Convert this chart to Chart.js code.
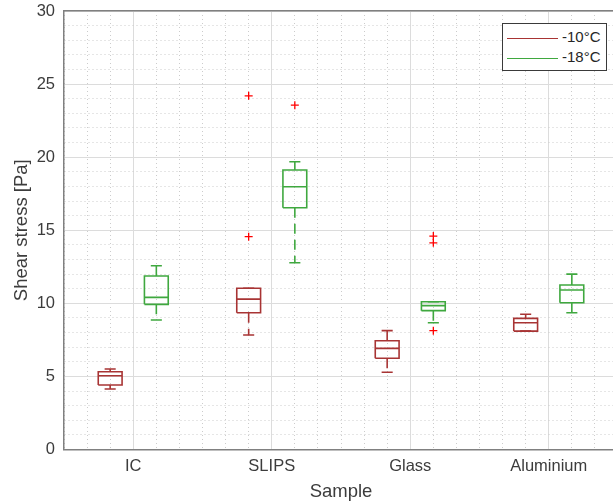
<!DOCTYPE html>
<html>
<head>
<meta charset="utf-8">
<script src="https://cdn.jsdelivr.net/npm/chart.js@4/dist/chart.umd.min.js"></script>
<style>
  body { margin: 0; overflow: hidden; background: #fff; }
  #wrap { position: relative; width: 625px; height: 504px; }
  #legend {
    position: absolute; left: 502px; top: 23px; width: 103px; height: 46px;
    border: 1px solid #3a3a3a; background: #fff;
    font-family: "Liberation Sans", Arial, sans-serif; font-size: 15px; color: #262626;
  }
  .item { position: absolute; left: 4px; height: 18px; line-height: 18px; white-space: nowrap; }
  .item span.line { display: inline-block; width: 51px; height: 0; border-top: 1.5px solid; vertical-align: middle; margin-right: 4px; }
</style>
</head>
<body>
<div id="wrap">
  <canvas id="boxChart" width="625" height="504"></canvas>
  <div id="legend"></div>
</div>
<script>
// categories and series
const categories = ['IC', 'SLIPS', 'Glass', 'Aluminium'];
const seriesNames = ['-10°C', '-18°C'];
const seriesColors = ['#a83434', '#3fa83f'];

// -10°C box statistics (Pa)
const low10 = [4.14, 7.83, 5.28, 8.10];
const q1_10 = [4.41, 9.36, 6.24, 8.10];
const med10 = [5.05, 10.29, 6.92, 8.67];
const q3_10 = [5.32, 11.03, 7.44, 8.97];
const high10 = [5.51, 11.03, 8.13, 9.25];
const outliers10 = [[], [24.2, 14.56], [], []];

// -18°C box statistics (Pa)
const low18 = [8.86, 12.78, 8.67, 9.36];
const q1_18 = [9.93, 16.54, 9.50, 10.04];
const med18 = [10.41, 17.98, 9.84, 10.91];
const q3_18 = [11.87, 19.12, 10.11, 11.25];
const high18 = [12.57, 19.69, 10.11, 12.00];
const outliers18 = [[], [23.56], [14.6, 14.14, 8.13], []];

// tick positions (major + minor grid)
const xTicks = [];
for (let k = 0; k <= 24; k++) xTicks.push(0.5 + k / 6);
const yTicks = [];
for (let v = 0; v <= 30; v++) yTicks.push(v);

const groupOffset = [-1 / 6, 1 / 6];
const halfBox = 0.086;
const halfCap = 0.04;
const font = '"Liberation Sans", Arial, sans-serif';
const textColor = '#3c3c3c';

function isMajorX(v) { return Math.abs(v - Math.round(v)) < 1e-6; }

function boxDatasets(s, idx) {
  const color = seriesColors[idx];
  const box = [], whisk = [], caps = [], outs = [];
  categories.forEach((c, i) => {
    const x = i + 1 + groupOffset[idx];
    box.push({x: x - halfBox, y: s.q1[i]}, {x: x + halfBox, y: s.q1[i]},
             {x: x + halfBox, y: s.q3[i]}, {x: x - halfBox, y: s.q3[i]},
             {x: x - halfBox, y: s.q1[i]}, {x: x, y: null},
             {x: x - halfBox, y: s.med[i]}, {x: x + halfBox, y: s.med[i]}, {x: x, y: null});
    whisk.push({x: x, y: s.q3[i]}, {x: x, y: s.high[i]}, {x: x, y: null},
               {x: x, y: s.q1[i]}, {x: x, y: s.low[i]}, {x: x, y: null});
    caps.push({x: x - halfCap, y: s.high[i]}, {x: x + halfCap, y: s.high[i]}, {x: x, y: null},
              {x: x - halfCap, y: s.low[i]}, {x: x + halfCap, y: s.low[i]}, {x: x, y: null});
    s.out[i].forEach(v => outs.push({x: x, y: v}));
  });
  const line = {showLine: true, pointRadius: 0, borderColor: color, borderWidth: 1.6, spanGaps: false, fill: false};
  return [
    Object.assign({label: seriesNames[idx], data: box}, line),
    Object.assign({label: seriesNames[idx] + ' whiskers', data: whisk, borderDash: [10, 6]}, line),
    Object.assign({label: seriesNames[idx] + ' caps', data: caps}, line),
    {label: seriesNames[idx] + ' outliers', data: outs, showLine: false, pointStyle: 'cross',
     pointRadius: 4, borderColor: '#ff0000', borderWidth: 1.3}
  ];
}

const datasets = [
  ...boxDatasets({low: low10, q1: q1_10, med: med10, q3: q3_10, high: high10, out: outliers10}, 0),
  ...boxDatasets({low: low18, q1: q1_18, med: med18, q3: q3_18, high: high18, out: outliers18}, 1)
];

const ctx = document.getElementById('boxChart').getContext('2d');
const chart = new Chart(ctx, {
  type: 'scatter',
  data: { datasets: datasets },
  options: {
    responsive: false,
    animation: false,
    devicePixelRatio: 1,
    layout: { padding: { top: 11, right: 5, left: 0, bottom: 0 } },
    plugins: { legend: { display: false }, tooltip: { enabled: false } },
    scales: {
      x: {
        type: 'linear', position: 'bottom', min: 0.5, max: 4.5,
        afterBuildTicks: s => { s.ticks = xTicks.map(v => ({value: v})); },
        afterFit: s => { s.height = 54.5; },
        ticks: {
          autoSkip: false, maxRotation: 0, padding: 7, color: textColor,
          font: { family: font, size: 16.5 },
          callback: v => isMajorX(v) ? categories[Math.round(v) - 1] : ''
        },
        grid: {
          drawTicks: false, lineWidth: 1,
          color: c => (c.tick && isMajorX(c.tick.value)) ? '#dcdcdc' : '#cccccc'
        },
        border: {
          display: true, color: '#808080', width: 1.5,
          dash: c => (c.tick && !isMajorX(c.tick.value)) ? [1, 3] : []
        },
        title: { display: true, text: 'Sample', color: textColor,
                 font: { family: font, size: 18.5 }, padding: { top: 0, bottom: 1 } }
      },
      xTop: {
        type: 'linear', position: 'top', min: 0.5, max: 4.5,
        afterFit: s => { s.height = 0; },
        ticks: { display: false },
        grid: { display: false },
        border: { display: true, color: '#808080', width: 1.5 }
      },
      y: {
        min: 0, max: 30,
        afterBuildTicks: s => { s.ticks = yTicks.map(v => ({value: v})); },
        afterFit: s => { s.width = 64; s.paddingTop = 0; s.paddingBottom = 0; },
        ticks: {
          autoSkip: false, padding: 9, color: textColor,
          font: { family: font, size: 16.5 },
          callback: v => v % 5 === 0 ? String(v) : ''
        },
        grid: {
          drawTicks: false, lineWidth: 1,
          color: c => (c.tick && c.tick.value % 5 === 0) ? '#dcdcdc' : '#cccccc'
        },
        border: {
          display: true, color: '#808080', width: 1.5,
          dash: c => (c.tick && c.tick.value % 5 !== 0) ? [1, 3] : []
        },
        title: { display: true, text: 'Shear stress [Pa]', color: textColor,
                 font: { family: font, size: 18.5 }, padding: { top: 11, bottom: 0 } }
      }
    }
  }
});

// legend inside the axes, like the original
const legend = document.getElementById('legend');
seriesNames.forEach((name, i) => {
  const item = document.createElement('div');
  item.className = 'item';
  item.style.top = (4 + i * 20) + 'px';
  item.innerHTML = '<span class="line" style="border-color:' + seriesColors[i] + '"></span>' + name;
  legend.appendChild(item);
});
</script>
</body>
</html>
